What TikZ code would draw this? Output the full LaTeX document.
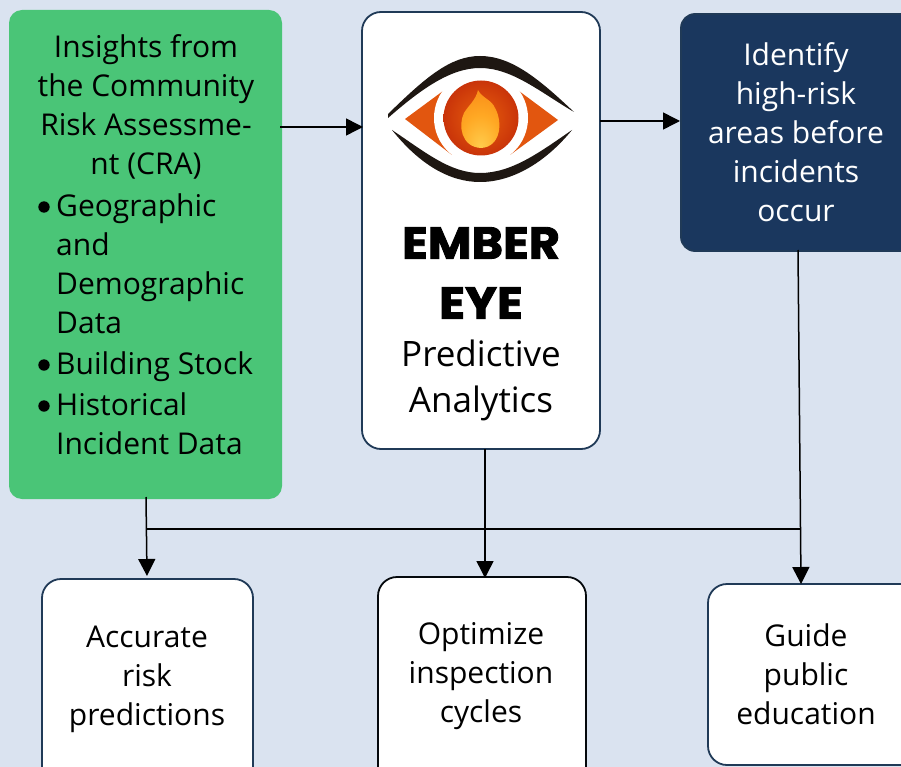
\documentclass[tikz,border=0pt]{standalone}
\usepackage{fontspec}
\setmainfont{Open Sans}
\usetikzlibrary{arrows.meta}
\definecolor{bgblue}{HTML}{DAE3F0}
\definecolor{navy}{HTML}{1A375E}
\definecolor{navyline}{HTML}{203A57}
\definecolor{greenbox}{HTML}{4AC577}
\definecolor{flamered}{HTML}{C9340A}
\definecolor{flameorange}{HTML}{E85F0C}
\definecolor{wedge}{HTML}{E2560F}
\definecolor{lid}{HTML}{1E1712}
\newfontfamily\heavyfont[FakeBold=2,FakeStretch=1.06]{Poppins Bold}
\pgfdeclareradialshading{flameglow}{\pgfpoint{0bp}{-24bp}}{
  rgb(0bp)=(1,0.80,0.30);
  rgb(22bp)=(1,0.66,0.14);
  rgb(50bp)=(0.97,0.50,0.07);
  rgb(100bp)=(0.93,0.40,0.05)}
\tikzset{
  x=1pt,y=-1pt,
  boxbase/.style={rounded corners=19pt,draw=navyline,line width=1.8pt,fill=white},
  txt/.style={font=\fontsize{30}{39}\selectfont,align=center,text=black,inner sep=0pt},
  link/.style={line width=1.5pt,draw=black},
  arr/.style={link,-{Triangle[length=17pt,width=17pt]}},
}
\begin{document}
\begin{tikzpicture}
\useasboundingbox (0,0) rectangle (901,767);
\fill[bgblue] (0,0) rectangle (901,767);
% boxes
\path[rounded corners=13pt,fill=greenbox] (9,10) rectangle (282,499);
\path[boxbase] (362,12) rectangle (600,449);
\path[boxbase,rounded corners=14pt,fill=navy] (681,14) rectangle (930,251);
\path[boxbase] (42,579) rectangle (253,800);
\path[boxbase,draw=black!85!navyline] (378,577) rectangle (586,800);
\path[boxbase] (708,584) rectangle (930,765);
% anchor points
\coordinate (gR) at (280,127);
\coordinate (eL) at (363,127);
\coordinate (eR) at (600,121);
\coordinate (nL) at (680,121);
\coordinate (gB) at (146,497);
\coordinate (aT) at (147,576);
\coordinate (eB) at (485,449);
\coordinate (oT) at (485,578);
\coordinate (nB) at (798,250);
\coordinate (pT) at (801,584);
\coordinate (jL) at (146,529);
\coordinate (jR) at (801,529);
% connectors
\draw[arr] (gR) -- (eL);
\draw[arr] (eR) -- (nL);
\draw[arr] (gB) -- (aT);
\draw[arr] (eB) -- (oT);
\draw[arr] (nB) -- (pT);
\draw[link] (jL) -- (jR);
% eye
\fill[white] (388,28) rectangle (574,214);
\fill[wedge] (405,119) -- (443,91) -- (481,118) -- (452,155) -- cycle;
\fill[wedge] (558,120) -- (519,91) -- (481,118) -- (510,155) -- cycle;
\fill[white] (481,118) circle (47);
\fill[lid] (388,114) .. controls (425,78) and (450,56) .. (480,56) .. controls (512,56) and (540,80) .. (574,112)
  .. controls (540,92) and (512,68) .. (480,68) .. controls (450,68) and (420,90) .. (388,118) -- cycle;
\fill[lid] (392,130) .. controls (420,165) and (450,182) .. (480,182) .. controls (512,182) and (545,163) .. (572,130)
  .. controls (540,152) and (512,173) .. (480,173) .. controls (450,173) and (425,152) .. (392,130) -- cycle;
\shade[inner color=flameorange,outer color=flamered] (481,118) circle (37.5);
\path[shading=flameglow]
  (478,90) .. controls (482,98) and (492,100) .. (495,108) .. controls (503,122) and (501,147) .. (481,148)
  .. controls (461,147) and (458,125) .. (464,113) .. controls (468,106) and (476,100) .. (478,90) -- cycle;
% texts
\node[txt] (t1) at (146,106.5) {Insights from\\the Community\\Risk Assessme-\\nt (CRA)};
\node[txt,align=left,anchor=north west] (t2) at (56,194) {Geographic\\and\\Demographic\\Data};
\node[txt,align=left,anchor=north west] (t3) at (56,352) {Building Stock};
\node[txt,align=left,anchor=north west] (t4) at (56,393) {Historical\\Incident Data};
\fill[black] (44,207) circle (5.7) (44,365) circle (5.7) (44,406) circle (5.7);
\node[font=\heavyfont\fontsize{45}{60}\selectfont,align=center,inner sep=0pt] (t5) at (481,273) {EMBER\\EYE};
\node[txt,font=\fontsize{35}{46}\selectfont] (t6) at (481,380.5) {Predictive\\Analytics};
\node[txt,text=white] (t7) at (796,132) {Identify\\high-risk\\areas before\\incidents\\occur};
\node[txt] (t8) at (147,679.5) {Accurate\\risk\\predictions};
\node[txt] (t9) at (481,676) {Optimize\\inspection\\cycles};
\node[txt] (t10) at (806,674) {Guide\\public\\education};
\end{tikzpicture}
\end{document}
